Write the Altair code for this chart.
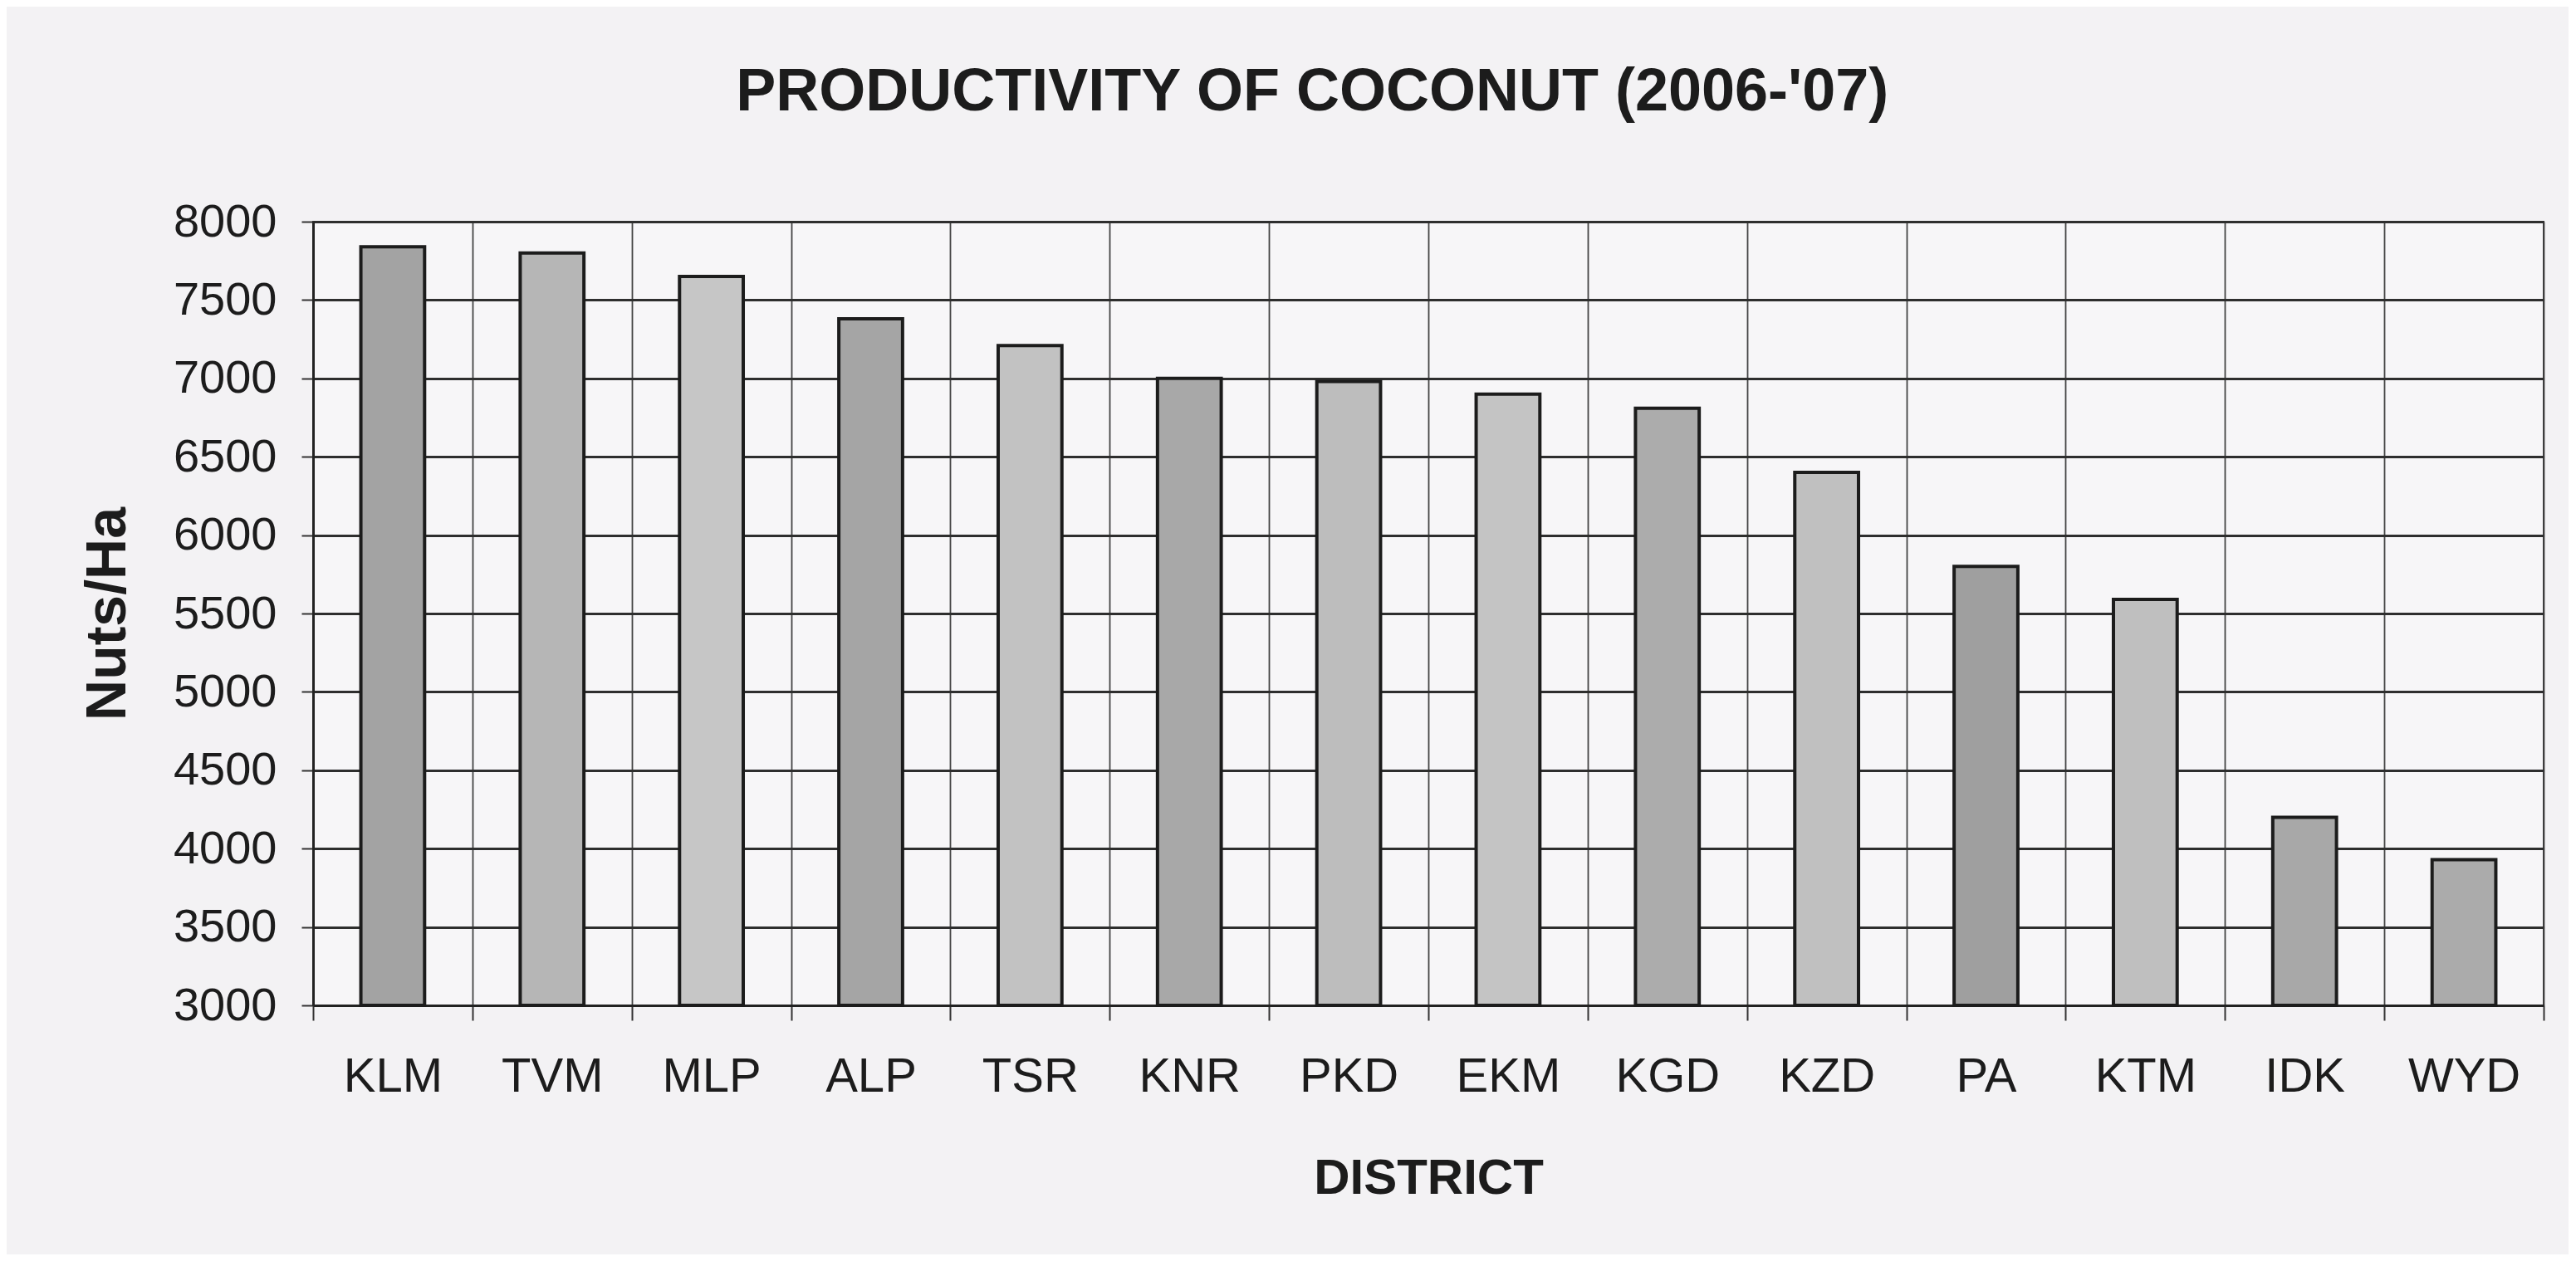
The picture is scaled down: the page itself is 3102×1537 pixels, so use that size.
import altair as alt
import pandas as pd

districts = ["KLM", "TVM", "MLP", "ALP", "TSR", "KNR", "PKD",
             "EKM", "KGD", "KZD", "PA", "KTM", "IDK", "WYD"]
productivity = [7840, 7800, 7650, 7380, 7210, 7000, 6980,
                6900, 6810, 6400, 5800, 5590, 4200, 3930]
bar_shades = ["#a3a3a3", "#b6b6b6", "#c6c6c6", "#a5a5a5", "#c2c2c2", "#a8a8a8", "#bdbdbd",
              "#c4c4c4", "#acacac", "#c0c0c0", "#9f9f9f", "#bfbfbf", "#a8a8a8", "#ababab"]
y_ticks = [3000, 3500, 4000, 4500, 5000, 5500, 6000, 6500, 7000, 7500, 8000]

df = pd.DataFrame({"District": districts, "Nuts/Ha": productivity})

FONT = "Liberation Sans"
INK = "#1c1c1c"

chart = alt.Chart(df).mark_bar(
    width=alt.RelativeBandSize(0.40), stroke=INK, strokeWidth=4
).encode(
    x=alt.X(
        "District:N",
        sort=districts,
        scale=alt.Scale(paddingInner=0, paddingOuter=0),
        axis=alt.Axis(
            title="DISTRICT",
            labelAngle=0,
            tickBand="extent",
            grid=True,
            gridColor="#444444",
            gridWidth=1.8,
            tickSize=18,
            tickColor="#333333",
            tickWidth=2,
            domainColor="#222222",
            domainWidth=3,
            labelFont=FONT,
            labelFontSize=58,
            labelColor=INK,
            labelPadding=39,
            titleFont=FONT,
            titleFontSize=60,
            titleFontWeight="bold",
            titleColor=INK,
            titlePadding=64,
        ),
    ),
    y=alt.Y(
        "Nuts/Ha:Q",
        scale=alt.Scale(domain=[y_ticks[0], y_ticks[-1]], nice=False, zero=False),
        axis=alt.Axis(
            title="Nuts/Ha",
            values=y_ticks,
            format="d",
            grid=True,
            gridColor="#2e2e2e",
            gridWidth=2.8,
            tickSize=14,
            tickColor="#333333",
            tickWidth=2,
            domainColor="#222222",
            domainWidth=3,
            labelFont=FONT,
            labelFontSize=56,
            labelColor=INK,
            labelPadding=30,
            titleFont=FONT,
            titleFontSize=68,
            titleFontWeight="bold",
            titleColor=INK,
            titlePadding=44,
        ),
    ),
    y2=alt.datum(y_ticks[0]),
    color=alt.Color("District:N", scale=alt.Scale(domain=districts, range=bar_shades), legend=None),
).properties(
    width=2686,
    height=944,
    title=alt.TitleParams(
        text="PRODUCTIVITY OF COCONUT (2006-'07)",
        font=FONT,
        fontSize=72,
        fontWeight="bold",
        color=INK,
        anchor="middle",
        frame="bounds",
        baseline="alphabetic",
        offset=34,
    ),
    padding={"left": 369, "top": 259, "right": 30, "bottom": 300},
    autosize=alt.AutoSizeParams(type="none"),
    background="#f3f2f4",
).configure_view(
    stroke="#333333", strokeWidth=2, fill="#f7f6f8"
)

chart.save("out.html", embed_options={"renderer": "svg", "actions": False})
